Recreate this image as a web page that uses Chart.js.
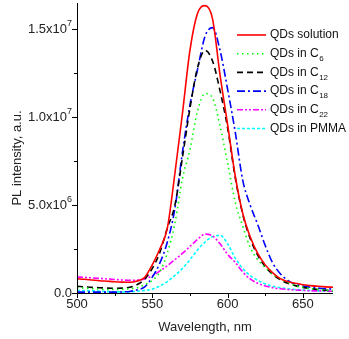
<!DOCTYPE html>
<html>
<head>
<meta charset="utf-8">
<script src="https://cdn.jsdelivr.net/npm/chart.js@4.4.1/dist/chart.umd.min.js"></script>
<style>
  html, body { margin: 0; padding: 0; background: #fff; }
  #wrap { width: 349px; height: 339px; }
</style>
</head>
<body>
<div id="wrap"><canvas id="grafico" width="349" height="339"></canvas></div>
<script>
// wavelength, nm
const wavelength = [500,505,510,515,520,525,530,535,540,545,550,555,560,565,570,575,580,585,590,595,600,605,610,615,620,625,630,635,640,645,650,655,660,665,670];

// PL intensity, in units of 10^6
const qdSolution = [0.81,0.78,0.74,0.70,0.67,0.64,0.62,0.61,0.68,0.9,1.6,2.5,3.7,6.8,10.2,13.8,15.9,16.35,15.6,12.4,9.6,6.7,4.55,3.2,2.25,1.6,1.15,0.82,0.65,0.55,0.47,0.42,0.38,0.35,0.33];
const qdC6 = [0.3,0.28,0.25,0.22,0.2,0.2,0.21,0.24,0.3,0.48,0.72,1.2,2.27,3.95,6.5,8.15,10.35,11.35,11.1,9.5,7.4,5.2,3.8,2.6,1.9,1.45,1.05,0.8,0.6,0.42,0.32,0.25,0.2,0.16,0.13];
const qdC12 = [0.38,0.35,0.32,0.3,0.28,0.27,0.28,0.33,0.48,0.8,1.4,2.3,3.7,5.0,7.7,10.5,12.8,13.8,13.2,11.5,9.4,6.6,4.5,3.1,2.15,1.5,1.05,0.75,0.55,0.42,0.32,0.25,0.2,0.16,0.13];
const qdC18 = [0.05,0.05,0.05,0.05,0.05,0.05,0.06,0.09,0.18,0.35,0.9,1.7,2.9,4.8,8.0,10.7,12.7,14.6,15.1,13.8,11.6,9.2,6.44,5.0,3.9,2.7,1.7,1.1,0.72,0.5,0.4,0.33,0.28,0.25,0.22];
const qdC22 = [0.91,0.89,0.86,0.83,0.8,0.77,0.74,0.72,0.73,0.8,0.98,1.25,1.55,1.9,2.25,2.65,3.05,3.35,3.25,2.8,2.2,1.75,1.2,0.8,0.55,0.4,0.3,0.24,0.2,0.17,0.15,0.13,0.12,0.11,0.1];
const qdPMMA = [0.15,0.14,0.12,0.1,0.08,0.07,0.06,0.07,0.1,0.15,0.22,0.4,0.65,1.0,1.4,1.9,2.45,2.9,3.2,3.28,2.8,2.0,1.4,1.0,0.72,0.52,0.38,0.3,0.24,0.2,0.17,0.14,0.12,0.1,0.09];

// legend text: main part + subscript
const legendMain = ["QDs solution","QDs in C","QDs in C","QDs in C","QDs in C","QDs in PMMA"];
const legendSub = ["","6","12","18","22",""];

// axis ticks
const xMajor = [500,550,600,650];
const xMinor = [525,575,625];
const yMajor = [0,5e6,1e7,1.5e7];
const yMinor = [2.5e6,7.5e6,1.25e7];
const yMantissa = ["0.0","5.0","1.0","1.5"];
const yExponent = ["","6","7","7"];

const FONT = '"Liberation Sans", Arial, sans-serif';

const pts = arr => arr.map((v, i) => ({ x: wavelength[i], y: v * 1e6 }));

const series = [
  { data: qdSolution, color: '#ff0000', dash: [] },
  { data: qdC6,       color: '#00ff00', dash: [1.5, 3.5] },
  { data: qdC12,      color: '#000000', dash: [6, 4] },
  { data: qdC18,      color: '#0000ff', dash: [8, 3, 2, 3] },
  { data: qdC22,      color: '#ff00ff', dash: [6, 2, 2, 2, 2, 2] },
  { data: qdPMMA,     color: '#00ffff', dash: [3, 2] }
];

// plugin: assi, tacche, etichette e legenda disegnati a mano
const axesPlugin = {
  id: 'axesPlugin',
  afterDraw(chart) {
    const ctx = chart.ctx;
    const a = chart.chartArea;
    const xs = chart.scales.x, ys = chart.scales.y;
    ctx.save();
    ctx.strokeStyle = '#000';
    ctx.lineWidth = 1;
    ctx.setLineDash([]);
    ctx.beginPath();
    ctx.moveTo(a.left + 0.5, a.top);
    ctx.lineTo(a.left + 0.5, a.bottom + 0.5);
    ctx.lineTo(a.right, a.bottom + 0.5);
    ctx.stroke();

    // ticks
    ctx.beginPath();
    xMajor.forEach(v => { const p = Math.round(xs.getPixelForValue(v)) + 0.5; ctx.moveTo(p, a.bottom); ctx.lineTo(p, a.bottom + 5); });
    xMinor.forEach(v => { const p = Math.round(xs.getPixelForValue(v)) + 0.5; ctx.moveTo(p, a.bottom); ctx.lineTo(p, a.bottom + 3); });
    yMajor.forEach(v => { const p = Math.round(ys.getPixelForValue(v)) + 0.5; ctx.moveTo(a.left, p); ctx.lineTo(a.left - 5, p); });
    yMinor.forEach(v => { const p = Math.round(ys.getPixelForValue(v)) + 0.5; ctx.moveTo(a.left, p); ctx.lineTo(a.left - 3, p); });
    ctx.stroke();

    ctx.fillStyle = '#222';
    // x labels
    ctx.font = '13px ' + FONT;
    ctx.textAlign = 'center';
    ctx.textBaseline = 'middle';
    xMajor.forEach(v => ctx.fillText(String(v), xs.getPixelForValue(v), a.bottom + 11));
    ctx.fillText('Wavelength, nm', (a.left + a.right) / 2, a.bottom + 34);

    // y labels with superscript
    ctx.textAlign = 'left';
    yMajor.forEach((v, i) => {
      const p = ys.getPixelForValue(v);
      ctx.font = '13px ' + FONT;
      const mant = yExponent[i] ? yMantissa[i] + 'x10' : yMantissa[i];
      const wM = ctx.measureText(mant).width;
      ctx.font = '9px ' + FONT;
      const wE = yExponent[i] ? ctx.measureText(yExponent[i]).width : 0;
      const right = a.left - 5;
      ctx.font = '13px ' + FONT;
      ctx.fillText(mant, right - wE - wM, p);
      if (yExponent[i]) {
        ctx.font = '9px ' + FONT;
        ctx.fillText(yExponent[i], right - wE, p - 6);
      }
    });

    // y title
    ctx.save();
    ctx.translate(17, (a.top + a.bottom) / 2 + 10);
    ctx.rotate(-Math.PI / 2);
    ctx.font = '13px ' + FONT;
    ctx.textAlign = 'center';
    ctx.fillText('PL intensity, a.u.', 0, 0);
    ctx.restore();

    // legenda
    series.forEach((s, i) => {
      const y = 35 + 18.7 * i;
      ctx.strokeStyle = s.color;
      ctx.lineWidth = 1.6;
      ctx.setLineDash(s.dash);
      ctx.beginPath();
      ctx.moveTo(237, y);
      ctx.lineTo(266, y);
      ctx.stroke();
      ctx.setLineDash([]);
      ctx.fillStyle = '#111';
      ctx.font = '12px ' + FONT;
      ctx.textAlign = 'left';
      ctx.fillText(legendMain[i], 270, y);
      if (legendSub[i]) {
        const w = ctx.measureText(legendMain[i]).width;
        ctx.font = '8px ' + FONT;
        ctx.fillText(legendSub[i], 270 + w + 0.5, y + 5);
      }
    });
    ctx.restore();
  }
};

new Chart(document.getElementById('grafico'), {
  type: 'line',
  data: {
    datasets: series.map((s, i) => ({
      label: legendMain[i] + legendSub[i],
      data: pts(s.data),
      borderColor: s.color,
      borderDash: s.dash,
      borderWidth: 1.6,
      pointRadius: 0,
      cubicInterpolationMode: 'monotone',
      fill: false
    }))
  },
  options: {
    responsive: false,
    animation: false,
    layout: { padding: { left: 77, top: 3, right: 16, bottom: 46 } },
    plugins: { legend: { display: false }, tooltip: { enabled: false } },
    scales: {
      x: { type: 'linear', min: 500, max: 670, display: false },
      y: { type: 'linear', min: 0, max: 1.65e7, display: false }
    }
  },
  plugins: [axesPlugin]
});
</script>
</body>
</html>
